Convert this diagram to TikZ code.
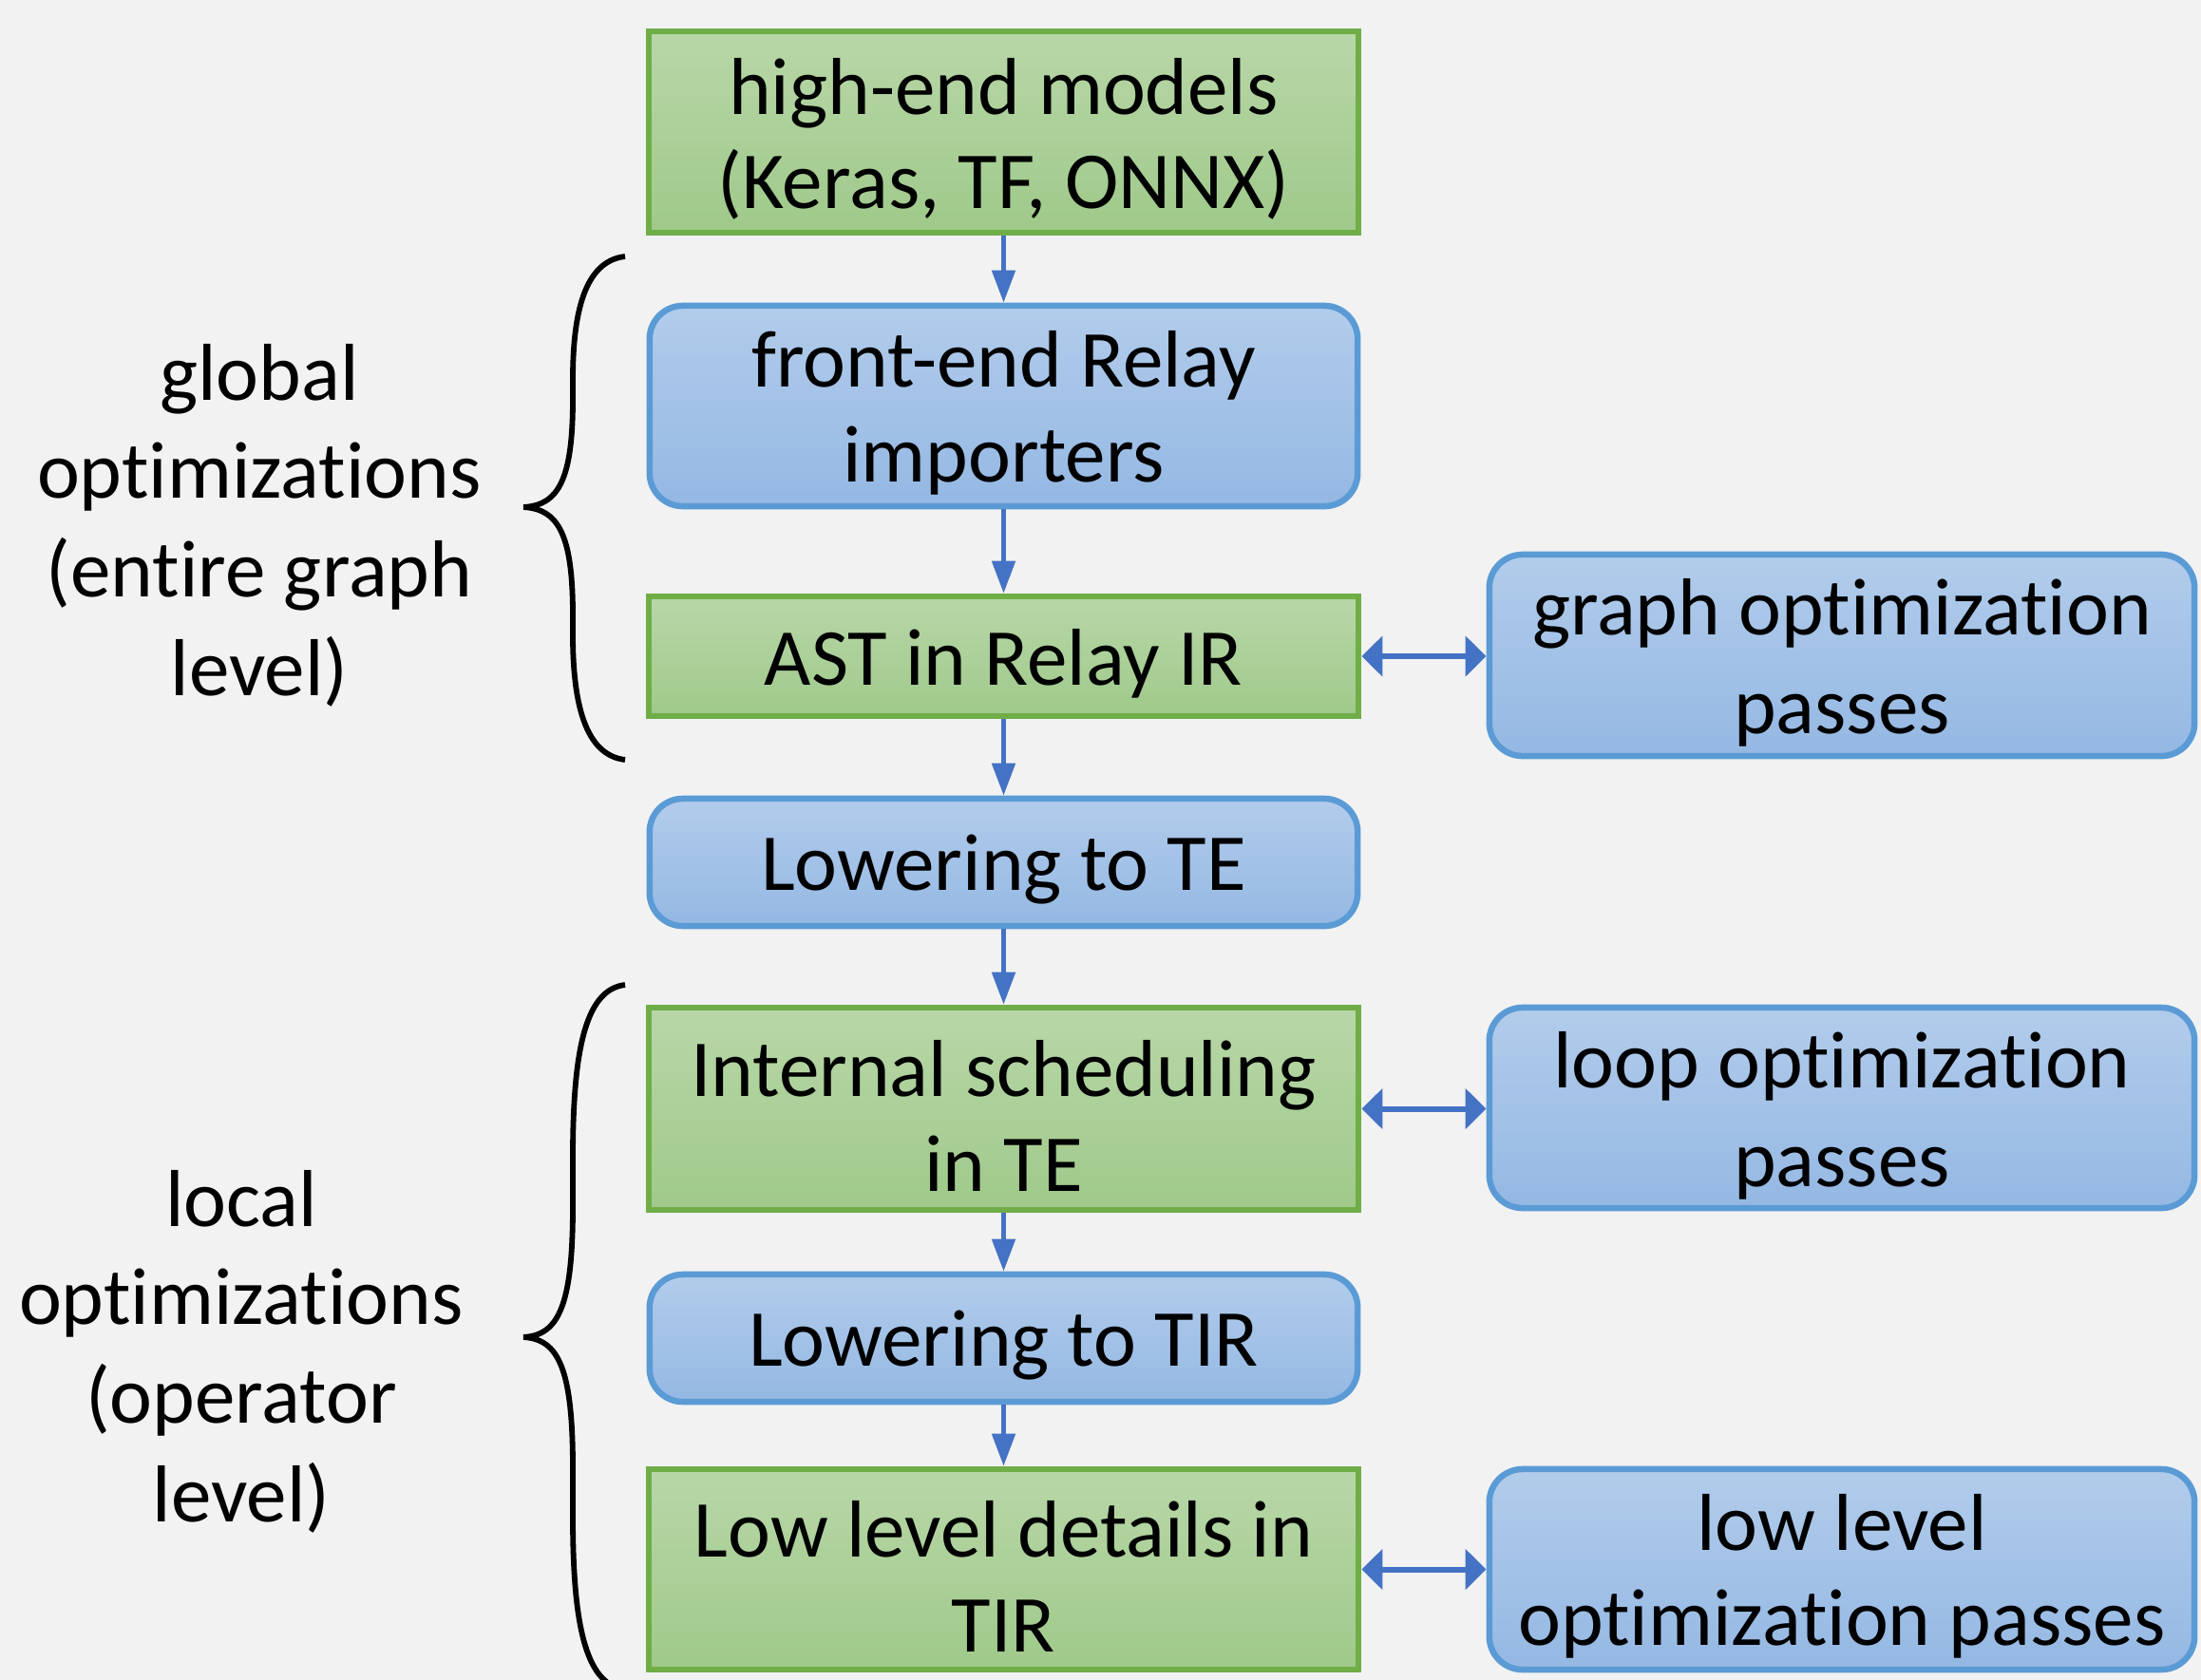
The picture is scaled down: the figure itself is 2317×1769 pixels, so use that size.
\documentclass[tikz,border=0pt]{standalone}
\usepackage{fontspec}
\setmainfont{Carlito}[Ligatures={NoCommon,NoRequired,NoContextual},RawFeature={-liga;-clig;-calt;-rlig;-dlig}]
\usetikzlibrary{arrows.meta}
\definecolor{bg}{HTML}{F2F2F2}
\definecolor{gfillT}{HTML}{B8D7A8}
\definecolor{gfillB}{HTML}{9FC98A}
\definecolor{gline}{HTML}{70AD47}
\definecolor{bfillT}{HTML}{B2CCEB}
\definecolor{bfillB}{HTML}{94B8E3}
\definecolor{bline}{HTML}{5B9BD5}
\definecolor{arr}{HTML}{4472C4}
\tikzset{
  boxtext/.style={font=\fontsize{24.2}{28.3}\selectfont, align=center, inner sep=0pt, yshift=-0.075cm},
  sidetext/.style={font=\fontsize{24.2}{29.5}\selectfont, align=center, inner sep=0pt, yshift=-0.08cm},
  greenbox/.style={draw=gline, line width=0.065cm, top color=gfillT, bottom color=gfillB, minimum width=7.47cm, inner sep=0pt},
  bluebox/.style={draw=bline, line width=0.065cm, top color=bfillT, bottom color=bfillB, rounded corners=0.35cm, minimum width=7.45cm, inner sep=0pt},
  varr/.style={draw=arr, line width=0.05cm, -{Triangle[width=0.24cm,length=0.34cm]}},
  harr/.style={draw=arr, line width=0.06cm, {Triangle[width=0.42cm,length=0.22cm]}-{Triangle[width=0.42cm,length=0.22cm]}},
  bracestyle/.style={draw=black, line width=0.058cm},
  sidelabel/.style={font=\fontsize{24.2}{29.5}\selectfont, align=center}
}
\begin{document}
\begin{tikzpicture}[x=0.01cm, y=-0.01cm]
\useasboundingbox (0,0) rectangle (2317,1769);
\fill[bg] (0,0) rectangle (2317,1769);

\node[greenbox, minimum height=2.12cm, label={[boxtext]center:{high-end models\\(Keras, TF, ONNX)}}] (n1) at (1056.5,139) {};
\node[bluebox, minimum height=2.11cm, label={[boxtext]center:{front-end Relay\\importers}}] (n2) at (1056.5,427.5) {};
\node[greenbox, minimum height=1.26cm, label={[boxtext]center:{AST in Relay IR}}] (n3) at (1056.5,691) {};
\node[bluebox, minimum height=2.12cm, minimum width=7.42cm, label={[sidetext]center:{graph optimization\\passes}}] (g) at (1939,690) {};
\node[bluebox, minimum height=1.34cm, label={[boxtext]center:{Lowering to TE}}] (n4) at (1056.5,908) {};
\node[greenbox, minimum height=2.13cm, label={[boxtext]center:{Internal scheduling\\in TE}}] (n5) at (1056.5,1167.5) {};
\node[bluebox, minimum height=2.11cm, minimum width=7.42cm, label={[sidetext]center:{loop optimization\\passes}}] (l) at (1939,1166.5) {};
\node[bluebox, minimum height=1.34cm, label={[boxtext]center:{Lowering to TIR}}] (n6) at (1056.5,1409) {};
\node[greenbox, minimum height=2.11cm, label={[boxtext]center:{Low level details in\\TIR}}] (n7) at (1056.5,1652.5) {};
\node[bluebox, minimum height=2.11cm, minimum width=7.42cm, label={[boxtext]center:{low level\\optimization passes}}] (lo) at (1939,1652.5) {};

\draw[varr] (n1.south) -- (n2.north);
\draw[varr] (n2.south) -- (n3.north);
\draw[varr] (n3.south) -- (n4.north);
\draw[varr] (n4.south) -- (n5.north);
\draw[varr] (n5.south) -- (n6.north);
\draw[varr] (n6.south) -- (n7.north);

\draw[harr] (n3.east) -- (n3.east -| g.west);
\draw[harr] (n5.east) -- (n5.east -| l.west);
\draw[harr] (n7.east) -- (n7.east -| lo.west);

% braces
\coordinate (b1t) at (658,270);
\coordinate (b1m) at (551,534);
\coordinate (b1b) at (658,800);
\draw[bracestyle] (b1t) .. controls (615,275) and (603,330) .. (603,400)
  -- (603,420) .. controls (603,505) and (588,532) .. (b1m)
  .. controls (588,536) and (603,563) .. (603,648)
  -- (603,668) .. controls (603,738) and (615,795) .. (b1b);

\coordinate (b2t) at (658,1037);
\coordinate (b2m) at (551,1408);
\coordinate (b2b) at (658,1779);
\begin{scope}
\clip (0,0) rectangle (2317,1769);
\draw[bracestyle] (b2t) .. controls (615,1042) and (603,1110) .. (603,1220)
  -- (603,1270) .. controls (603,1375) and (588,1406) .. (b2m)
  .. controls (588,1410) and (603,1441) .. (603,1546)
  -- (603,1596) .. controls (603,1706) and (615,1774) .. (b2b);
\end{scope}

\node[sidelabel] (glab) at (273,553) {global\\optimizations\\(entire graph\\level)};
\node[sidelabel] (llab) at (254,1423) {local\\optimizations\\(operator\\level)};
\end{tikzpicture}
\end{document}
